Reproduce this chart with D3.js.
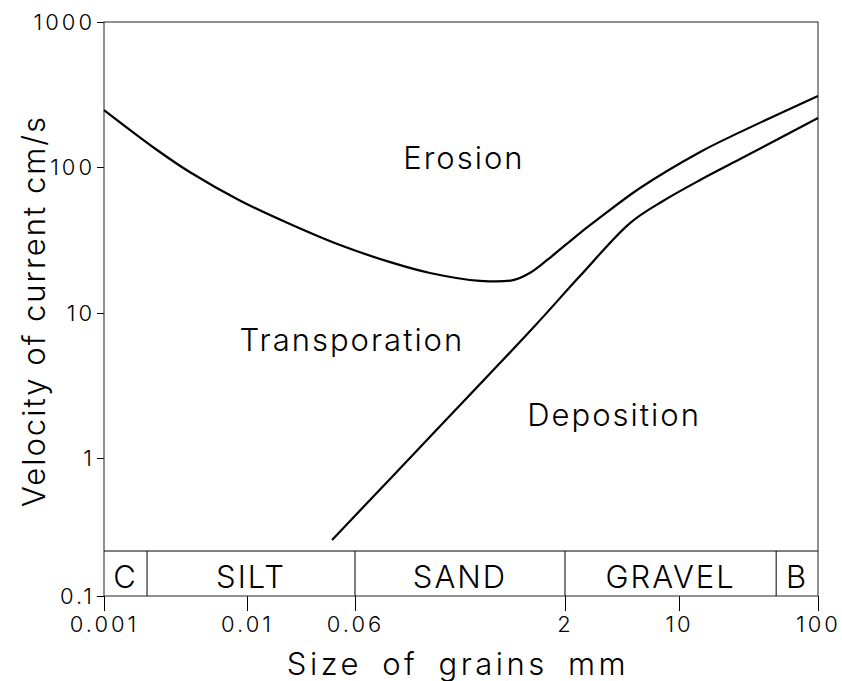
<!DOCTYPE html>
<html>
<head>
<meta charset="utf-8">
<script src="https://cdn.jsdelivr.net/npm/d3@7"></script>
<style>
body	{margin:0;background:#fff;}
text	{font-family:Inter,"DejaVu Sans",sans-serif;font-weight:300;fill:#000;}
</style>
</head>
<body>
<svg id="chart" width="842" height="681"></svg>
<script>
// axis ticks as printed on the figure
var	xTicks		= [0.001, 0.01, 0.06, 2, 10, 100],
	xTickLabels	= ["0.001", "0.01", "0.06", "2", "10", "100"],
	yTicks		= [0.1, 1, 10, 100, 1000],
	yTickLabels	= ["0.1", "1", "10", "100", "1000"];

// erosion threshold curve (grain size mm, velocity cm/s)
var	erosionSize	= [0.001, 0.00235, 0.004, 0.0089, 0.0204, 0.0468, 0.108, 0.21, 0.484, 0.84, 1.11, 1.48, 2.47, 3.14, 5.77, 14.2, 27.5, 100],
	erosionVel	= [247, 131, 92, 59, 40.7, 29.2, 22.3, 18.8, 16.6, 16.8, 18.8, 23, 35.3, 43.4, 71.8, 127, 174, 309];

// deposition curve
var	depositSize	= [0.041, 0.21, 1.17, 2.47, 5.01, 7.98, 14.2, 27.5, 100],
	depositVel	= [0.255, 1.40, 7.88, 17.9, 41.3, 58.5, 81.5, 113.5, 218];

// grain classes
var	classNames	= ["C", "SILT", "SAND", "GRAVEL", "B"],
	classLimits	= [0.001, 0.002, 0.06, 2, 50, 100];

// region labels
var	regionNames	= ["Erosion", "Transporation", "Deposition"],
	regionSize	= [0.37, 0.057, 4.0],
	regionVel	= [115, 6.5, 1.98];

var	svg	= d3.select("#chart"),
	x	= d3.scaleLog().domain(xTicks).range([104, 247, 355, 565, 679, 818]),
	y	= d3.scaleLog().domain(yTicks).range([596, 458, 313, 167, 22]),
	bandH	= 45,
	bandTop	= y(0.1) - bandH;

// axes
svg.append("g").attr("transform", "translate(0," + y(0.1) + ")")
	.call(d3.axisBottom(x).tickValues(xTicks).tickSize(15).tickPadding(5)
		.tickFormat(function(d, i) { return xTickLabels[i]; }));
svg.append("g").attr("transform", "translate(" + x(0.001) + ",0)")
	.call(d3.axisLeft(y).tickValues(yTicks).tickSize(7).tickPadding(2)
		.tickFormat(function(d, i) { return yTickLabels[i]; }));
svg.selectAll(".domain").remove();
svg.selectAll(".tick line").attr("stroke", "#000").attr("stroke-width", 1);
svg.selectAll(".tick text").style("font-size", "22px").style("letter-spacing", "3px")
	.attr("fill", "#000");

// frame
svg.append("rect")
	.attr("x", x(0.001)).attr("y", y(1000))
	.attr("width", x(100) - x(0.001)).attr("height", y(0.1) - y(1000))
	.attr("fill", "none").attr("stroke", "#222").attr("stroke-width", 1);

// grain class band
svg.append("line")
	.attr("x1", x(0.001)).attr("x2", x(100)).attr("y1", bandTop).attr("y2", bandTop)
	.attr("stroke", "#000").attr("stroke-width", 1);
svg.selectAll(".classLine").data(classLimits.slice(1, -1)).enter().append("line")
	.attr("class", "classLine")
	.attr("x1", function(d) { return x(d); }).attr("x2", function(d) { return x(d); })
	.attr("y1", bandTop).attr("y2", y(0.1))
	.attr("stroke", "#000").attr("stroke-width", 1);
svg.selectAll(".className").data(classNames).enter().append("text")
	.attr("class", "className")
	.attr("x", function(d, i) { return (x(classLimits[i]) + x(classLimits[i + 1])) / 2; })
	.attr("y", y(0.1) - 8)
	.attr("text-anchor", "middle")
	.style("font-size", "31px").style("letter-spacing", "2px")
	.text(function(d) { return d; });

// curves
var	line	= d3.line()
		.x(function(d) { return x(d[0]); })
		.y(function(d) { return y(d[1]); })
		.curve(d3.curveCatmullRom.alpha(0.5));
svg.append("path")
	.datum(erosionSize.map(function(s, i) { return [s, erosionVel[i]]; }))
	.attr("d", line).attr("fill", "none").attr("stroke", "#000").attr("stroke-width", 2.2);
svg.append("path")
	.datum(depositSize.map(function(s, i) { return [s, depositVel[i]]; }))
	.attr("d", line).attr("fill", "none").attr("stroke", "#000").attr("stroke-width", 2.2);

// region labels
svg.selectAll(".region").data(regionNames).enter().append("text")
	.attr("class", "region")
	.attr("x", function(d, i) { return x(regionSize[i]); })
	.attr("y", function(d, i) { return y(regionVel[i]); })
	.attr("dy", "0.35em")
	.attr("text-anchor", "middle")
	.style("font-size", "31px").style("letter-spacing", "2px")
	.text(function(d) { return d; });

// axis titles
svg.append("text")
	.attr("x", 458).attr("y", 675)
	.attr("text-anchor", "middle")
	.style("font-size", "31px").style("letter-spacing", "3.5px").style("word-spacing", "8px")
	.text("Size of grains mm");
svg.append("text")
	.attr("transform", "translate(45,311) rotate(-90)")
	.attr("text-anchor", "middle")
	.style("font-size", "31px").style("letter-spacing", "2px")
	.text("Velocity of current cm/s");
</script>
</body>
</html>
